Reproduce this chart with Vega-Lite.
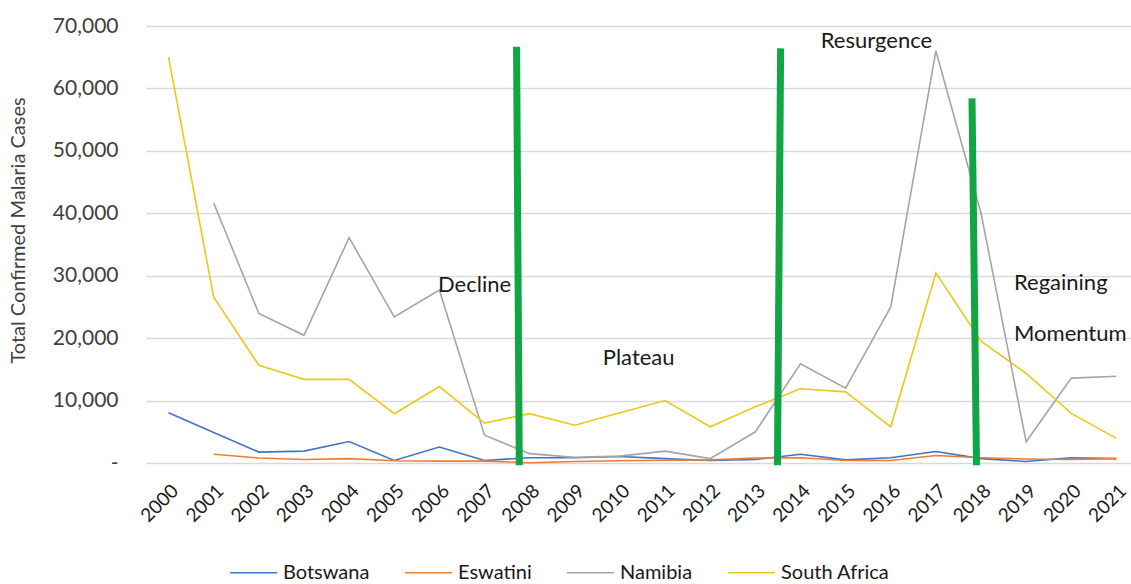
{
  "$schema": "https://vega.github.io/schema/vega-lite/v6.json",
  "width": 993,
  "height": 437,
  "autosize": {"type": "none"},
  "padding": {"left": 146, "top": 26, "right": 0, "bottom": 121},
  "background": "white",
  "config": {
    "view": {"stroke": null},
    "font": "Lato",
    "axis": {"labelFont": "Lato", "titleFont": "Lato", "labelColor": "#404040", "titleColor": "#404040"}
  },
  "datasets": {
    "cases": [
      {"country": "Botswana", "year": 2000, "cases": 8050},
      {"country": "Botswana", "year": 2001, "cases": 4900},
      {"country": "Botswana", "year": 2002, "cases": 1750},
      {"country": "Botswana", "year": 2003, "cases": 1900},
      {"country": "Botswana", "year": 2004, "cases": 3450},
      {"country": "Botswana", "year": 2005, "cases": 400},
      {"country": "Botswana", "year": 2006, "cases": 2550},
      {"country": "Botswana", "year": 2007, "cases": 400},
      {"country": "Botswana", "year": 2008, "cases": 850},
      {"country": "Botswana", "year": 2009, "cases": 850},
      {"country": "Botswana", "year": 2010, "cases": 1050},
      {"country": "Botswana", "year": 2011, "cases": 700},
      {"country": "Botswana", "year": 2012, "cases": 400},
      {"country": "Botswana", "year": 2013, "cases": 550},
      {"country": "Botswana", "year": 2014, "cases": 1400},
      {"country": "Botswana", "year": 2015, "cases": 500},
      {"country": "Botswana", "year": 2016, "cases": 850},
      {"country": "Botswana", "year": 2017, "cases": 1850},
      {"country": "Botswana", "year": 2018, "cases": 700},
      {"country": "Botswana", "year": 2019, "cases": 250},
      {"country": "Botswana", "year": 2020, "cases": 850},
      {"country": "Botswana", "year": 2021, "cases": 700},
      {"country": "Eswatini", "year": 2001, "cases": 1400},
      {"country": "Eswatini", "year": 2002, "cases": 800},
      {"country": "Eswatini", "year": 2003, "cases": 550},
      {"country": "Eswatini", "year": 2004, "cases": 700},
      {"country": "Eswatini", "year": 2005, "cases": 350},
      {"country": "Eswatini", "year": 2006, "cases": 300},
      {"country": "Eswatini", "year": 2007, "cases": 300},
      {"country": "Eswatini", "year": 2008, "cases": 50},
      {"country": "Eswatini", "year": 2009, "cases": 250},
      {"country": "Eswatini", "year": 2010, "cases": 350},
      {"country": "Eswatini", "year": 2011, "cases": 450},
      {"country": "Eswatini", "year": 2012, "cases": 500},
      {"country": "Eswatini", "year": 2013, "cases": 800},
      {"country": "Eswatini", "year": 2014, "cases": 850},
      {"country": "Eswatini", "year": 2015, "cases": 400},
      {"country": "Eswatini", "year": 2016, "cases": 400},
      {"country": "Eswatini", "year": 2017, "cases": 1200},
      {"country": "Eswatini", "year": 2018, "cases": 850},
      {"country": "Eswatini", "year": 2019, "cases": 650},
      {"country": "Eswatini", "year": 2020, "cases": 550},
      {"country": "Eswatini", "year": 2021, "cases": 700},
      {"country": "Namibia", "year": 2001, "cases": 41650},
      {"country": "Namibia", "year": 2002, "cases": 23950},
      {"country": "Namibia", "year": 2003, "cases": 20450},
      {"country": "Namibia", "year": 2004, "cases": 36100},
      {"country": "Namibia", "year": 2005, "cases": 23400},
      {"country": "Namibia", "year": 2006, "cases": 27700},
      {"country": "Namibia", "year": 2007, "cases": 4450},
      {"country": "Namibia", "year": 2008, "cases": 1500},
      {"country": "Namibia", "year": 2009, "cases": 900},
      {"country": "Namibia", "year": 2010, "cases": 1100},
      {"country": "Namibia", "year": 2011, "cases": 1900},
      {"country": "Namibia", "year": 2012, "cases": 700},
      {"country": "Namibia", "year": 2013, "cases": 5000},
      {"country": "Namibia", "year": 2014, "cases": 15900},
      {"country": "Namibia", "year": 2015, "cases": 12000},
      {"country": "Namibia", "year": 2016, "cases": 25000},
      {"country": "Namibia", "year": 2017, "cases": 66000},
      {"country": "Namibia", "year": 2018, "cases": 40000},
      {"country": "Namibia", "year": 2019, "cases": 3400},
      {"country": "Namibia", "year": 2020, "cases": 13600},
      {"country": "Namibia", "year": 2021, "cases": 13900},
      {"country": "South Africa", "year": 2000, "cases": 65000},
      {"country": "South Africa", "year": 2001, "cases": 26550},
      {"country": "South Africa", "year": 2002, "cases": 15650},
      {"country": "South Africa", "year": 2003, "cases": 13400},
      {"country": "South Africa", "year": 2004, "cases": 13400},
      {"country": "South Africa", "year": 2005, "cases": 7900},
      {"country": "South Africa", "year": 2006, "cases": 12250},
      {"country": "South Africa", "year": 2007, "cases": 6400},
      {"country": "South Africa", "year": 2008, "cases": 7900},
      {"country": "South Africa", "year": 2009, "cases": 6050},
      {"country": "South Africa", "year": 2010, "cases": 8050},
      {"country": "South Africa", "year": 2011, "cases": 10000},
      {"country": "South Africa", "year": 2012, "cases": 5800},
      {"country": "South Africa", "year": 2013, "cases": 9000},
      {"country": "South Africa", "year": 2014, "cases": 11900},
      {"country": "South Africa", "year": 2015, "cases": 11400},
      {"country": "South Africa", "year": 2016, "cases": 5800},
      {"country": "South Africa", "year": 2017, "cases": 30450},
      {"country": "South Africa", "year": 2018, "cases": 19500},
      {"country": "South Africa", "year": 2019, "cases": 14350},
      {"country": "South Africa", "year": 2020, "cases": 7950},
      {"country": "South Africa", "year": 2021, "cases": 3950}
    ],
    "phases": [
      {"xTop": 2007.71, "xBottom": 2007.77, "top": 66680, "bottom": -350},
      {"xTop": 2013.56, "xBottom": 2013.49, "top": 66420, "bottom": -350},
      {"xTop": 2017.80, "xBottom": 2017.90, "top": 58400, "bottom": -350}
    ],
    "notes": [
      {"label": "Decline", "year": 2005.97, "cases": 27360},
      {"label": "Plateau", "year": 2009.62, "cases": 15670},
      {"label": "Resurgence", "year": 2014.45, "cases": 66520},
      {"label": "Regaining", "year": 2018.73, "cases": 27680},
      {"label": "Momentum", "year": 2018.73, "cases": 19550}
    ]
  },
  "layer": [
    {
      "data": {"name": "cases"},
      "mark": {"type": "line", "strokeWidth": 1.6, "clip": false},
      "encoding": {
        "x": {
          "field": "year", "type": "quantitative",
          "scale": {"domain": [1999.5, 2021.5], "nice": false, "zero": false},
          "axis": {
            "title": null, "values": [2000,2001,2002,2003,2004,2005,2006,2007,2008,2009,2010,2011,2012,2013,2014,2015,2016,2017,2018,2019,2020,2021],
            "format": "d", "labelAngle": -45, "labelFontSize": 19, "labelColor": "#1a1a1a",
            "ticks": false, "domain": false, "grid": false, "labelPadding": 18
          }
        },
        "y": {
          "field": "cases", "type": "quantitative",
          "scale": {"domain": [0, 70000], "nice": false},
          "axis": {
            "title": "Total Confirmed Malaria Cases", "titleFontSize": 20, "titleFontWeight": "normal",
            "titleY": 204, "titlePadding": 24,
            "values": [0, 10000, 20000, 30000, 40000, 50000, 60000, 70000],
            "labelExpr": "datum.value == 0 ? '-\u00a0\u00a0' : format(datum.value, ',')",
            "labelFontSize": 21, "labelPadding": 28,
            "ticks": false, "domain": false, "grid": true, "gridColor": "#d9d9d9", "gridWidth": 1.3
          }
        },
        "color": {
          "field": "country", "type": "nominal",
          "scale": {"domain": ["Botswana", "Eswatini", "Namibia", "South Africa"], "range": ["#4472C4", "#ED7D31", "#A5A5A5", "#EDC818"]},
          "legend": {
            "title": null, "orient": "none", "direction": "horizontal",
            "legendX": 83, "legendY": 522,
            "symbolType": "stroke", "symbolSize": 2200, "symbolStrokeWidth": 1.5,
            "labelFontSize": 20, "labelColor": "#1a1a1a", "labelOffset": 5, "columnPadding": 32
          }
        }
      }
    },
    {
      "data": {"name": "phases"},
      "mark": {"type": "rule", "color": "#12A544", "strokeWidth": 7, "clip": false},
      "encoding": {
        "x": {"field": "xTop", "type": "quantitative"},
        "x2": {"field": "xBottom"},
        "y": {"field": "top", "type": "quantitative"},
        "y2": {"field": "bottom"}
      }
    },
    {
      "data": {"name": "notes"},
      "mark": {"type": "text", "align": "left", "baseline": "alphabetic", "fontSize": 22, "font": "Lato", "color": "#1a1a1a"},
      "encoding": {
        "x": {"field": "year", "type": "quantitative"},
        "y": {"field": "cases", "type": "quantitative"},
        "text": {"field": "label"}
      }
    }
  ]
}
